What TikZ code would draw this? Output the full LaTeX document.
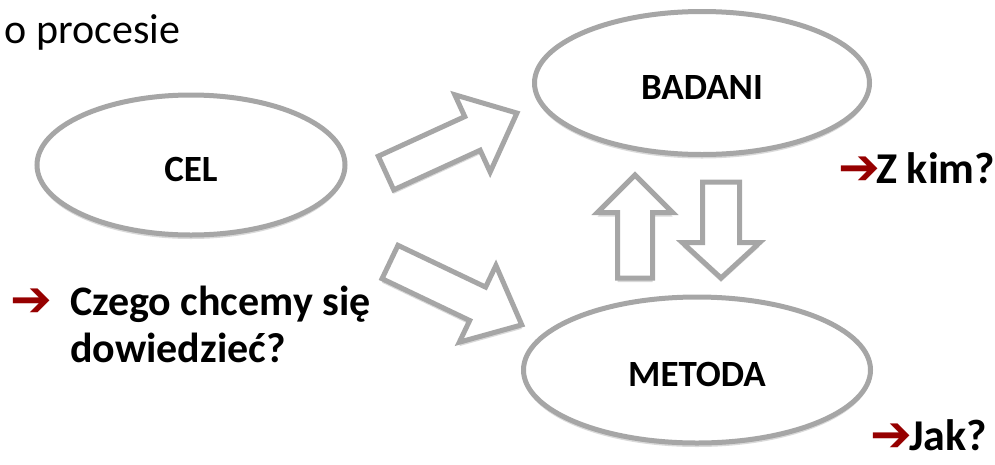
\documentclass[tikz,border=0pt]{standalone}
\usepackage{fontspec}
\setmainfont{Carlito}
\newfontfamily\dejavu{DejaVu Sans}
\usetikzlibrary{calc,shapes.geometric,shapes.arrows,shadows}

\definecolor{ovalgray}{RGB}{166,166,166}
\definecolor{bulletred}{RGB}{150,0,0}

\begin{document}
\begin{tikzpicture}[x=1pt,y=-1pt]

\tikzset{inner sep=0pt,outer sep=0pt,
oval/.style={ellipse,draw=ovalgray,line width=5pt,fill=white,text height=32pt,text depth=0pt,
  font=\fontsize{37}{44}\selectfont\bfseries,
  drop shadow={shadow xshift=0pt,shadow yshift=-4pt,fill=black,opacity=0.15}},
bigarrow/.style={single arrow,draw=ovalgray,line width=5pt,fill=white,anchor=tail,
  single arrow head indent=0pt,inner xsep=0pt,
  drop shadow={shadow xshift=0pt,shadow yshift=-4pt,fill=black,opacity=0.15}},
question/.style={anchor=base west,font=\fontsize{42}{50}\selectfont\bfseries},
shortq/.style={question,font=\fontsize{44}{52}\selectfont\bfseries},
bullet/.style={text=bulletred,font=\dejavu\fontsize{50}{58}\selectfont}}

\useasboundingbox (0,0) rectangle (995,464);

% Title fragment
\node (proc) [anchor=base west,font=\fontsize{42}{50}\selectfont] at (5,43) {o procesie};

% Ovals
\node[oval,minimum width=308pt,minimum height=140pt] (cel) at (191,165) {CEL};
\node[oval,minimum width=335pt,minimum height=143pt] (badani) at (702,83) {BADANI};
\node[oval,minimum width=347pt,minimum height=146pt] (metoda) at (697,370) {METODA};

% Block arrows
\node[bigarrow,rotate=24.6,minimum height=144pt,inner ysep=16pt,
  single arrow head extend=24pt,single arrow tip angle=82] (celbad) at (386,173) {};
\node[bigarrow,rotate=-25.5,minimum height=146pt,inner ysep=16pt,
  single arrow head extend=24pt,single arrow tip angle=82] (celmet) at (390,262) {};
\node[bigarrow,rotate=90,minimum height=103pt,inner ysep=15pt,
  single arrow head extend=20pt,single arrow tip angle=90] (metbad) at (635,278) {};
\node[bigarrow,rotate=-90,minimum height=96pt,inner ysep=16pt,
  single arrow head extend=20pt,single arrow tip angle=95] (badmet) at (721,182) {};

% Questions
\node[bullet] (bulczego) at (31,303) {➔};
\node[question] (czego1) at (70,315) {Czego chcemy się};
\node[question] (czego2) at (70,362) {dowiedzieć?};

\node[bullet] (bulkim) at (859,171) {➔};
\node[shortq] (zkim) at (876,183) {Z kim?};

\node[bullet] (buljak) at (891,438) {➔};
\node[shortq] (jak) at (909,450) {Jak?};

\end{tikzpicture}
\end{document}
